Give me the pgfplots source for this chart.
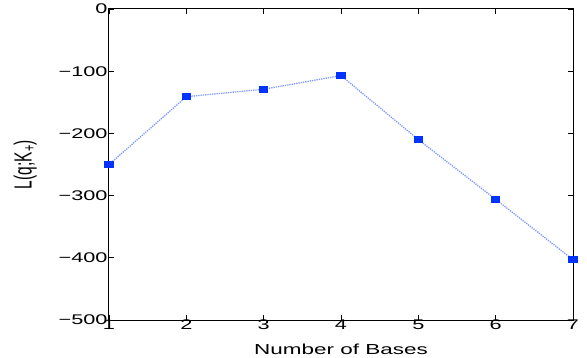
\documentclass[border=0pt]{standalone}
\usepackage{pgfplots}
\pgfplotsset{compat=1.18}
\usepackage{fontspec}
\setmainfont{Liberation Sans}[FakeStretch=1.55]
\newfontfamily\plainsans{Liberation Sans}
\begin{document}
\begin{tikzpicture}
\begin{axis}[
  name=ax,
  scale only axis,
  width=464bp, height=311bp,
  xmin=1, xmax=7, ymin=-500, ymax=0,
  xtick={1,2,3,4,5,6,7},
  xticklabels={1,2,3,4,5,6,7},
  ytick={-500,-400,-300,-200,-100,0},
  yticklabels={−500,−400,−300,−200,−100,0},
  tick align=inside,
  major tick length=5bp,
  axis line style={line width=1bp},
  tick style={line width=0.6bp, black},
  ticklabel style={font=\fontsize{14bp}{16bp}\selectfont},
  xticklabel style={yshift=4bp},
  yticklabel style={xshift=2bp},
  xlabel={Number of Bases},
  ylabel={L(q;K\textsubscript{+})},
  xlabel style={font=\fontsize{14.5bp}{16bp}\selectfont, at={(axis description cs:0.5,0)}, anchor=north, yshift=-20bp},
  ylabel style={font=\plainsans\fontsize{15.5bp}{17bp}\selectfont, yscale=1.6, yshift=8bp},
]
\addplot[color={rgb,1:red,0.5;green,0.6;blue,1}, line width=1.3bp, densely dotted,
  mark=square*, mark size=3bp,
  mark options={solid, xscale=1.35, fill={rgb,1:red,0;green,0.2;blue,1}, draw={rgb,1:red,0;green,0.2;blue,1}}]
coordinates {(1,-250) (2,-141) (3,-129) (4,-107) (5,-210) (6,-306) (7,-403)};
\end{axis}
\pgfresetboundingbox
\path[use as bounding box] ([xshift=-109bp,yshift=-38bp]ax.south west) rectangle ([xshift=14bp,yshift=9bp]ax.north east);
\end{tikzpicture}
\end{document}
